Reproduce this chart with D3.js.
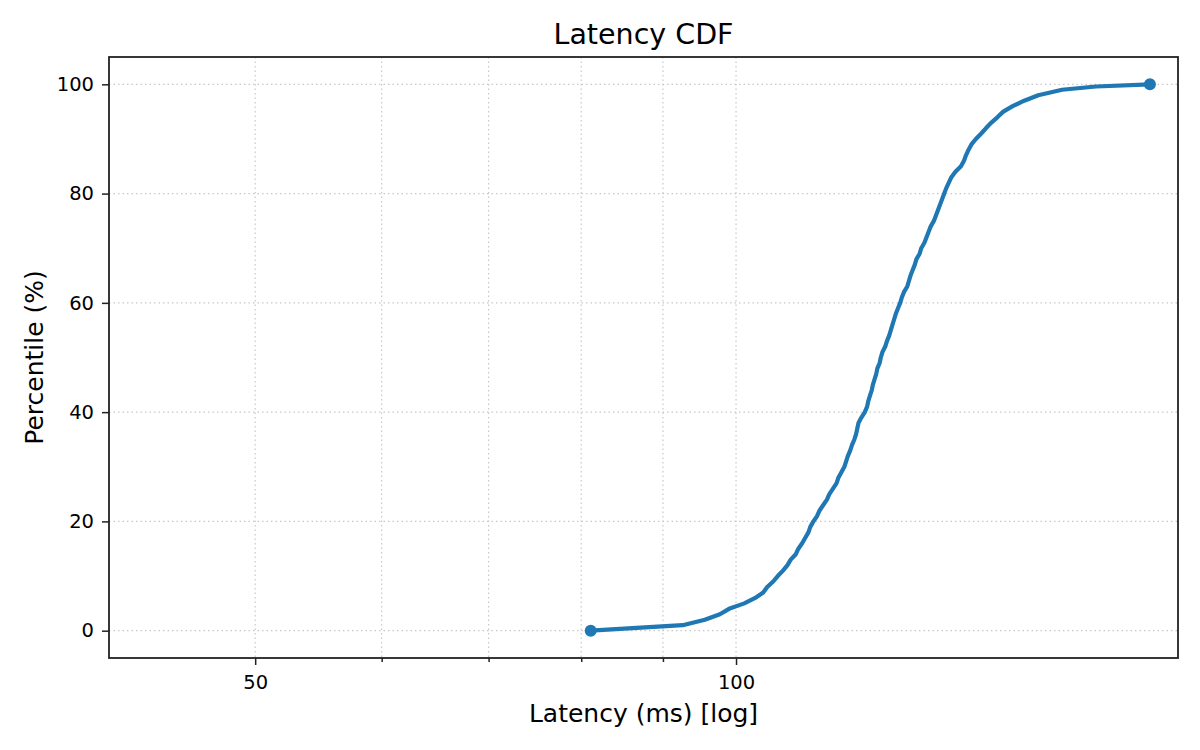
<!DOCTYPE html>
<html>
<head>
<meta charset="utf-8">
<script src="https://cdn.jsdelivr.net/npm/d3@7"></script>
<style>
  body { margin: 0; background: #fff; }
  svg { font-family: "DejaVu Sans", sans-serif; }
</style>
</head>
<body>
<div id="chart"></div>
<script>
// percentile points of the latency CDF
var percentiles = [0, 1, 2, 3, 4, 5, 6, 7, 8, 9, 10, 11, 12, 13, 14, 15, 16, 17, 18, 19,
  20, 21, 22, 23, 24, 25, 26, 27, 28, 29, 30, 31, 32, 33, 34, 35, 36, 37, 38, 39,
  40, 41, 42, 43, 44, 45, 46, 47, 48, 49, 50, 51, 52, 53, 54, 55, 56, 57, 58, 59,
  60, 61, 62, 63, 64, 65, 66, 67, 68, 69, 70, 71, 72, 73, 74, 75, 76, 77, 78, 79,
  80, 81, 82, 83, 84, 85, 86, 87, 88, 89, 90, 91, 92, 93, 94, 95, 96, 97, 98, 99,
  99.6, 100];
var latencies = [81.1, 92.6, 95.6, 97.7, 99.0, 101.2, 102.8, 104.0, 104.6, 105.5,
  106.2, 107.0, 107.7, 108.2, 109.0, 109.4, 110.0, 110.5, 111.0, 111.3,
  111.8, 112.4, 112.8, 113.4, 114.0, 114.4, 115.0, 115.6, 115.9, 116.4,
  116.9, 117.2, 117.5, 117.9, 118.2, 118.6, 118.9, 119.1, 119.3, 119.8,
  120.4, 120.8, 121.0, 121.3, 121.6, 121.8, 122.1, 122.4, 122.6, 123.0,
  123.2, 123.5, 124.0, 124.3, 124.7, 125.0, 125.3, 125.6, 125.9, 126.3,
  126.7, 127.0, 127.4, 128.0, 128.3, 128.6, 129.0, 129.4, 129.7, 130.3,
  130.6, 131.2, 131.6, 132.0, 132.4, 133.0, 133.4, 133.8, 134.2, 134.6,
  135.0, 135.4, 135.9, 136.4, 137.2, 138.3, 138.9, 139.3, 139.8, 140.4,
  141.3, 142.4, 143.4, 144.5, 145.8, 147.0, 149.0, 151.5, 154.6, 160.0,
  168.0, 181.6];
var xMajorTicks = [50, 100];
var xMinorTicks = [60, 70, 80, 90];
var yTicks = [0, 20, 40, 60, 80, 100];

var W = 1200, H = 750;
var margin = {left: 109, right: 22, top: 57, bottom: 92};
var iw = W - margin.left - margin.right, ih = H - margin.top - margin.bottom;

var svg = d3.select("#chart").append("svg")
    .attr("width", W)
    .attr("height", H);

var x = d3.scaleLog().domain([40.5, 189.1]).range([0, iw]);
var y = d3.scaleLinear().domain([-5, 105]).range([ih, 0]);

var g = svg.append("g").attr("transform", "translate(" + margin.left + "," + margin.top + ")");

// grid
var grid = g.append("g").attr("stroke", "#c8c8c8").attr("stroke-width", 1.2).attr("stroke-dasharray", "1.5,3");
grid.selectAll(".gx").data(xMajorTicks.concat(xMinorTicks)).enter().append("line")
    .attr("x1", function (d) { return x(d); }).attr("x2", function (d) { return x(d); })
    .attr("y1", 0).attr("y2", ih);
grid.selectAll(".gy").data(yTicks).enter().append("line")
    .attr("x1", 0).attr("x2", iw)
    .attr("y1", function (d) { return y(d); }).attr("y2", function (d) { return y(d); });

// axes
g.append("g").attr("transform", "translate(0," + ih + ")")
    .call(d3.axisBottom(x).tickValues(xMajorTicks).tickFormat(d3.format("d")).tickSize(7).tickPadding(10));
g.append("g").attr("transform", "translate(0," + ih + ")")
    .call(d3.axisBottom(x).tickValues(xMinorTicks).tickFormat("").tickSize(4));
g.append("g")
    .call(d3.axisLeft(y).tickValues(yTicks).tickSize(7).tickPadding(8));

g.selectAll(".tick text").attr("font-size", 19.5).attr("fill", "#000").attr("font-family", "DejaVu Sans");
g.selectAll(".tick line").attr("stroke", "#222").attr("stroke-width", 1.5);
g.selectAll(".domain").remove();

// frame
g.append("rect").attr("width", iw).attr("height", ih)
    .attr("fill", "none").attr("stroke", "#222").attr("stroke-width", 1.8);

// line
var pts = percentiles.map(function (p, i) { return [latencies[i], p]; });
g.append("path").datum(pts)
    .attr("fill", "none")
    .attr("stroke", "#1f77b4")
    .attr("stroke-width", 4.2)
    .attr("stroke-linejoin", "round")
    .attr("d", d3.line().x(function (d) { return x(d[0]); }).y(function (d) { return y(d[1]); }));

// end markers
g.selectAll(".end").data([pts[0], pts[pts.length - 1]]).enter().append("circle")
    .attr("cx", function (d) { return x(d[0]); })
    .attr("cy", function (d) { return y(d[1]); })
    .attr("r", 6)
    .attr("fill", "#1f77b4");

// labels
svg.append("text").attr("x", margin.left + iw / 2).attr("y", 44)
    .attr("text-anchor", "middle").attr("font-size", 28.5).text("Latency CDF");
svg.append("text").attr("x", margin.left + iw / 2).attr("y", 722)
    .attr("text-anchor", "middle").attr("font-size", 25).text("Latency (ms) [log]");
svg.append("text")
    .attr("transform", "translate(43," + (margin.top + ih / 2) + ") rotate(-90)")
    .attr("text-anchor", "middle").attr("font-size", 25).text("Percentile (%)");
</script>
</body>
</html>
